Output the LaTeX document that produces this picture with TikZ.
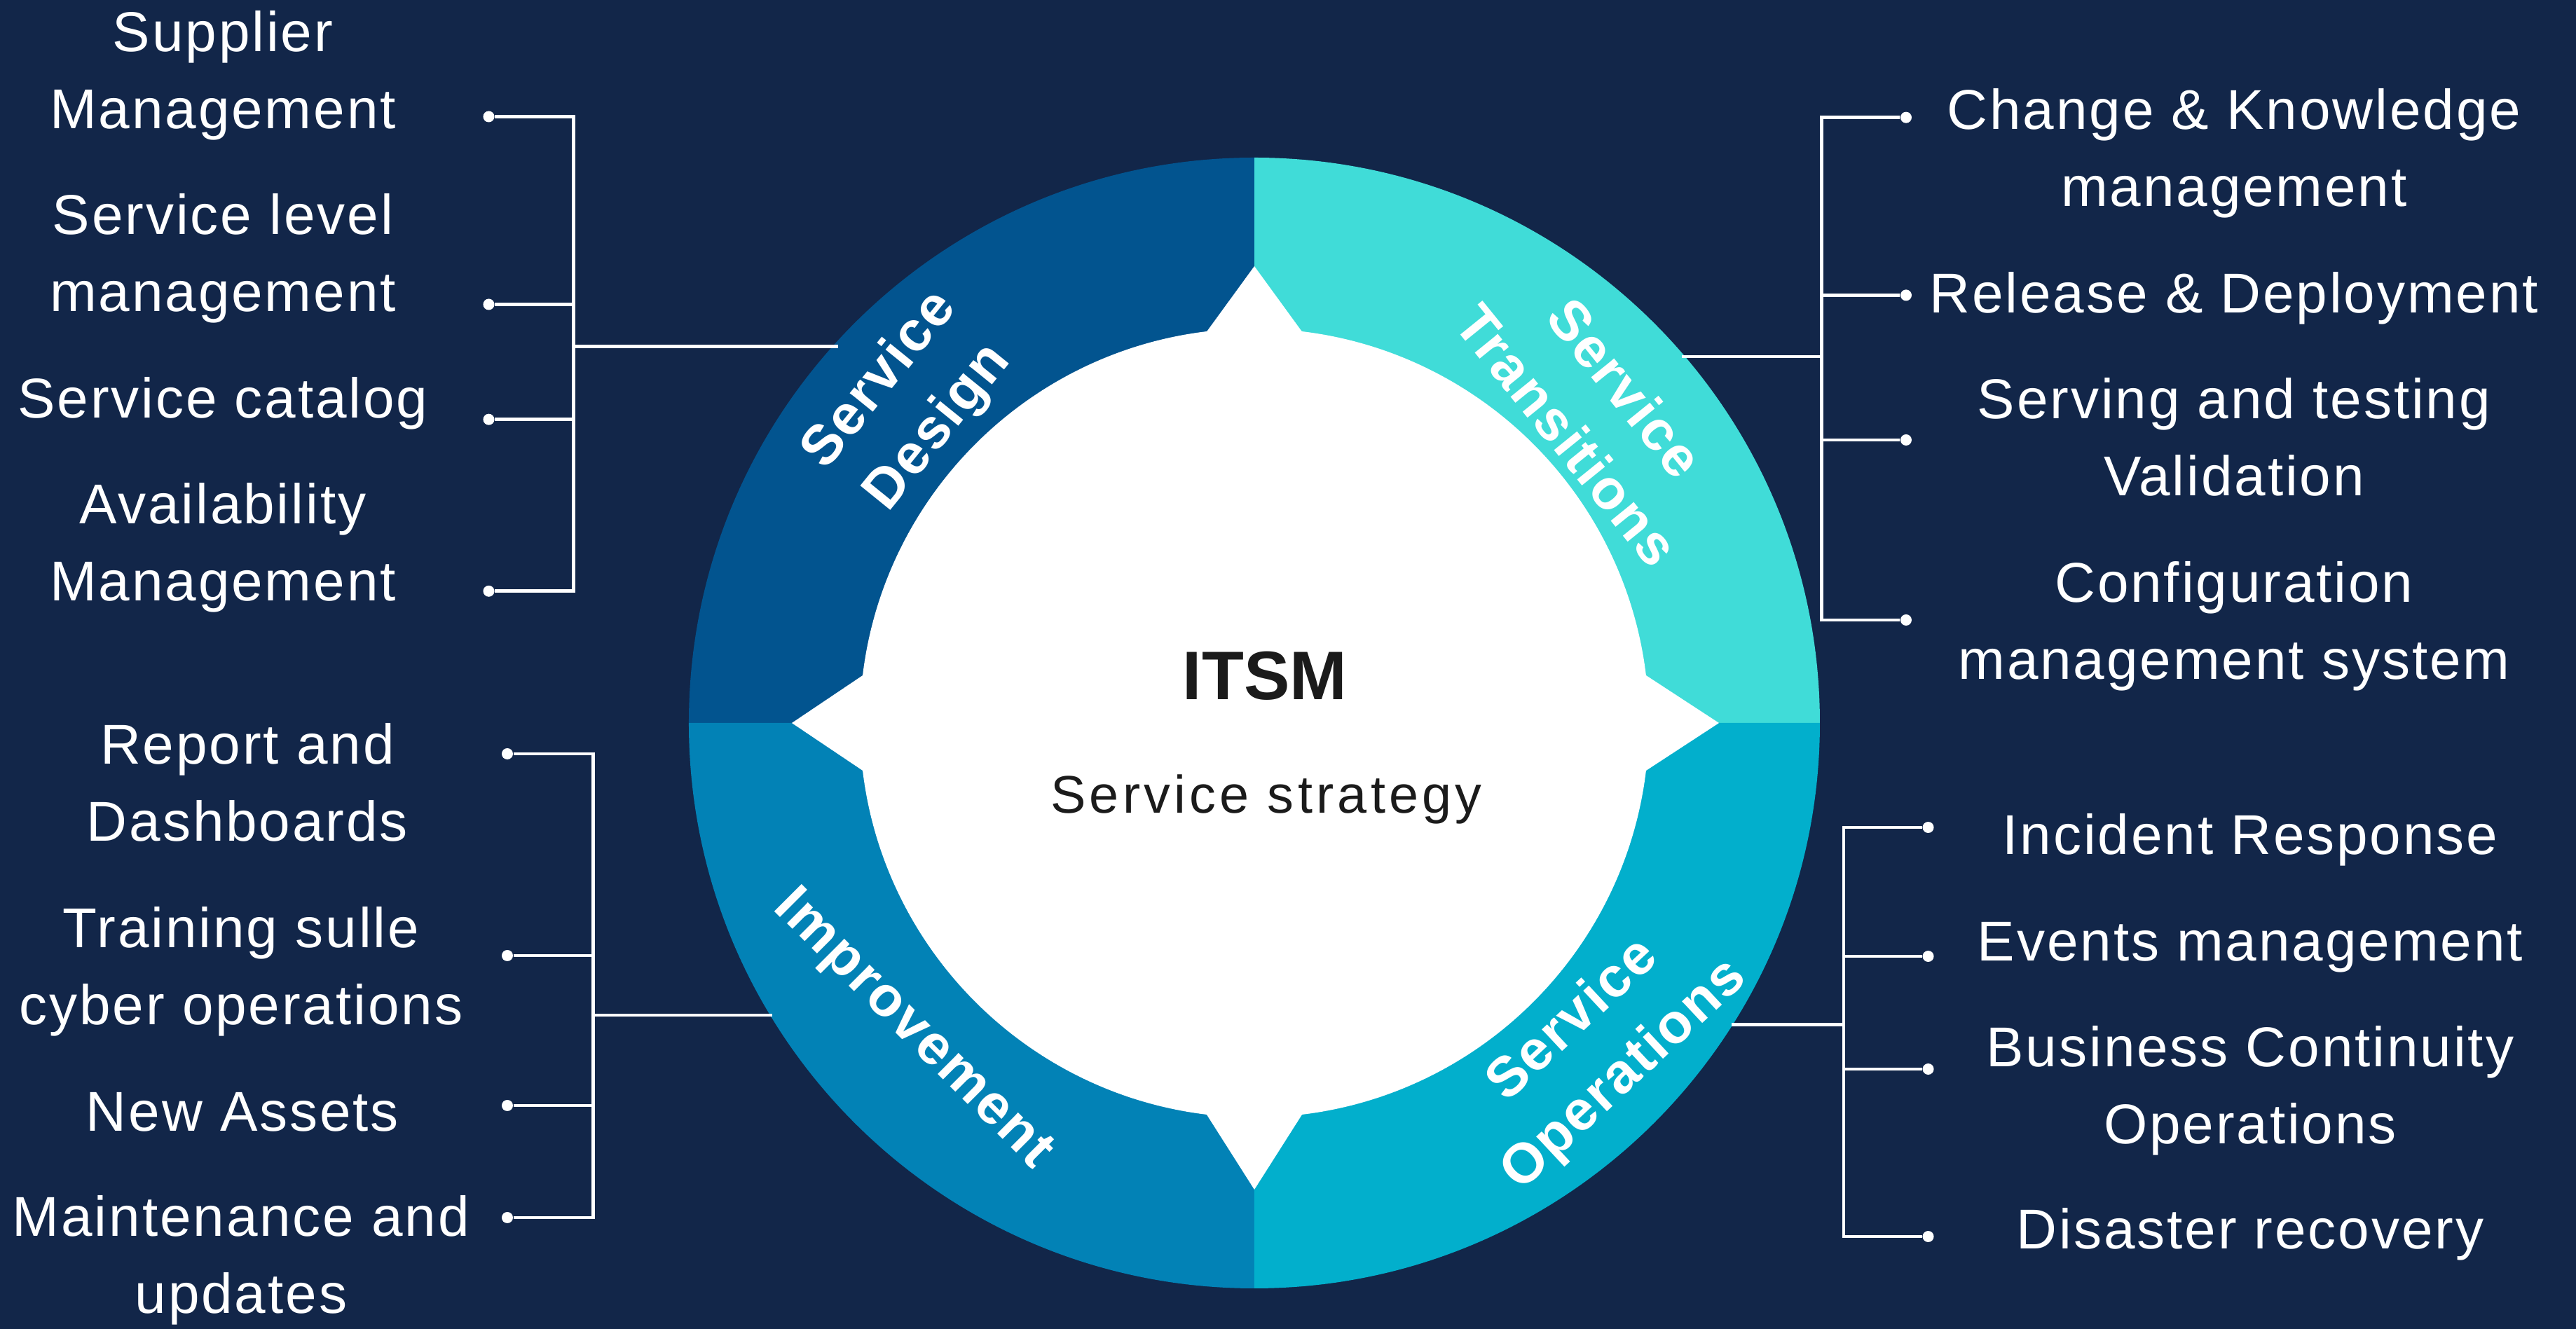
\documentclass[tikz,border=0pt]{standalone}
\usepackage{fontspec}
\setmainfont{Liberation Sans}
\newfontfamily\itemfont{Liberation Sans}[LetterSpace=3.6]
\newfontfamily\ringfont{Liberation Sans}[LetterSpace=3.0]
\newfontfamily\corefont{Liberation Sans}[LetterSpace=7.0]

\definecolor{bgnavy}{HTML}{122649}
\definecolor{designblue}{HTML}{02548F}
\definecolor{transcyan}{HTML}{40DCD8}
\definecolor{opscyan}{HTML}{02AFCC}
\definecolor{impblue}{HTML}{0282B6}
\definecolor{coretext}{HTML}{1B1B1B}

\tikzset{
  item/.style={text=white, align=center, anchor=base, inner sep=0pt,
    font=\itemfont\fontsize{22.8pt}{31.3pt}\selectfont},
  ringlabel/.style={text=white, align=center, inner sep=0pt,
    font=\ringfont\bfseries\fontsize{22.8pt}{30.5pt}\selectfont},
  dot/.style={circle, fill=white, inner sep=0pt, minimum size=1.6mm},
  link/.style={white, line width=1.4pt},
}

\begin{document}
\begin{tikzpicture}
  \useasboundingbox (-17.90,-8.65) rectangle (18.86,10.32);
  \fill[bgnavy] (-17.90,-8.65) rectangle (18.86,10.32);

  % ring quarters
  \foreach \a/\c in {0/transcyan,90/designblue,180/impblue,270/opscyan} {
   \fill[\c] (0,0) -- (\a:8.07) arc[start angle=\a, delta angle=90, radius=8.07] -- cycle;
  }
  % white core with four tips
  \fill[white] (0,0) circle (5.63);
  \foreach \a/\r in {0/6.63,90/6.52,180/6.60,270/6.66} {
   \fill[white] (\a-7.2:5.6) -- (\a:\r) -- (\a+7.2:5.6) -- cycle;
  }

  \node[font=\bfseries\fontsize{27.9pt}{30pt}\selectfont, text=coretext, anchor=base] (itsm) at (0.15,0.33) {ITSM};
  \node[font=\corefont\fontsize{21.5pt}{26pt}\selectfont, text=coretext, anchor=base] (strategy) at (0.17,-1.29) {Service strategy};

  \node[ringlabel, rotate=51] (design) at (-4.92,4.55) {Service\\Design};
  \node[ringlabel, rotate=-51] (transition) at (4.88,4.45) {Service\\Transitions};
  \node[ringlabel, rotate=43] (operation) at (4.92,-4.64) {Service\\Operations};
  \node[ringlabel, rotate=-45] (improve) at (-4.88,-4.38) {Improvement};

  % service design (nodes sit on the baseline of their last line)
  \node[item] (supplier) at (-14.72,8.483) {Supplier\\Management};
  \node[item] (level) at (-14.72,5.87) {Service level\\management};
  \node[item] (catalog) at (-14.72,4.35) {Service catalog};
  \node[item] (avail) at (-14.72,1.74) {Availability\\Management};
  \foreach \n/\y in {1/8.655,2/5.975,3/4.333,4/1.882} {
   \node[dot] (sd\n) at (-10.925,\y) {};
  }
  \coordinate (sdhub) at (-9.713,5.372);
  \coordinate (sdring) at (-5.94,5.372);
  \foreach \n in {1,...,4} {
   \draw[link] (sd\n) -| (sdhub);
  }
  \draw[link] (sdhub) -- (sdring);

  % service transitions
  \node[item] (change) at (13.98,7.37) {Change \& Knowledge\\management};
  \node[item] (release) at (13.98,5.85) {Release \& Deployment};
  \node[item] (serving) at (13.98,3.24) {Serving and testing\\Validation};
  \node[item] (config) at (13.98,0.62) {Configuration\\management system};
  \foreach \n/\y in {1/8.643,2/6.106,3/4.04,4/1.47} {
   \node[dot] (st\n) at (9.30,\y) {};
  }
  \coordinate (sthub) at (8.095,5.23);
  \coordinate (string) at (6.10,5.23);
  \foreach \n in {1,...,4} {
   \draw[link] (st\n) -| (sthub);
  }
  \draw[link] (sthub) -- (string);

  % improvement
  \node[item] (report) at (-14.37,-1.69) {Report and\\Dashboards};
  \node[item] (training) at (-14.46,-4.31) {Training sulle\\cyber operations};
  \node[item] (assets) at (-14.44,-5.83) {New Assets};
  \node[item] (maint) at (-14.46,-8.43) {Maintenance and\\updates};
  \foreach \n/\y in {1/-0.44,2/-3.32,3/-5.46,4/-7.06} {
   \node[dot] (im\n) at (-10.66,\y) {};
  }
  \coordinate (imhub) at (-9.434,-4.17);
  \coordinate (imring) at (-6.88,-4.17);
  \foreach \n in {1,...,4} {
   \draw[link] (im\n) -| (imhub);
  }
  \draw[link] (imhub) -- (imring);

  % service operations
  \node[item] (incident) at (14.21,-1.875) {Incident Response};
  \node[item] (events) at (14.21,-3.40) {Events management};
  \node[item] (business) at (14.21,-6.01) {Business Continuity\\Operations};
  \node[item] (disaster) at (14.21,-7.51) {Disaster recovery};
  \foreach \n/\y in {1/-1.49,2/-3.33,3/-4.94,4/-7.33} {
   \node[dot] (so\n) at (9.616,\y) {};
  }
  \coordinate (sohub) at (8.41,-4.305);
  \coordinate (soring) at (6.81,-4.305);
  \foreach \n in {1,...,4} {
   \draw[link] (so\n) -| (sohub);
  }
  \draw[link] (sohub) -- (soring);
\end{tikzpicture}
\end{document}
